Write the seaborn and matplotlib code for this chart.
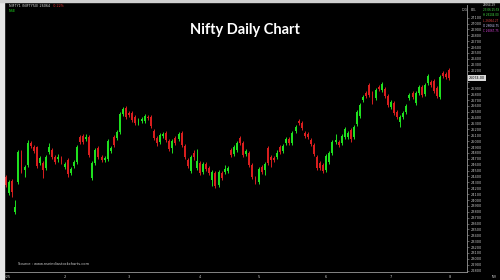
import numpy as np
import pandas as pd
import matplotlib
matplotlib.use("Agg")
import matplotlib.pyplot as plt
import seaborn as sns

# ---------------- data ----------------
opens = [24391, 24119, 24323, 23796, 24306, 24765, 24510, 24595, 24969, 24901,
         24901, 24629, 24629, 24544, 24816, 24850, 24731, 24697, 24714, 24561,
         24680, 24459, 24578, 24646, 25071, 25088, 25037, 25071, 24374, 24629,
         24884, 24731, 24680, 24697, 24833, 25071, 25054, 25156, 25462, 25564,
         25479, 25479, 25411, 25309, 25343, 25343, 25411, 25411, 25173, 25054,
         24986, 25088, 25139, 25003, 24884, 25054, 25037, 25139, 24918, 24680,
         24493, 24799, 24544, 24629, 24476, 24612, 24544, 24340, 24459, 24255,
         24459, 24476, 24493, 24850, 24782, 24850, 25054, 24969, 24782, 24799,
         24595, 24374, 24306, 24561, 24510, 24884, 24731, 24714, 24731, 24901,
         24833, 24969, 25037, 24969, 25173, 25343, 25309, 25139, 25122, 25020,
         24935, 24731, 24629, 24595, 24510, 24646, 24799, 24986, 24986, 24969,
         25071, 25071, 25190, 25071, 25292, 25428, 25700, 25819, 25955, 25819,
         25734, 25921, 25870, 25887, 25768, 25581, 25649, 25496, 25326, 25411,
         25496, 25734, 25819, 25649, 25819, 25921, 25802, 25989, 26006, 26023,
         25904, 25751, 26159, 26142, 26210]
highs = [24425, 24340, 24357, 24000, 24850, 24850, 24595, 25020, 25003, 24935,
         24918, 24748, 24663, 24765, 24969, 24884, 24765, 24782, 24748, 24646,
         24714, 24561, 24680, 24935, 25105, 25122, 25122, 25105, 24663, 24884,
         24918, 24765, 24748, 25037, 24918, 25105, 25190, 25496, 25581, 25598,
         25513, 25513, 25445, 25394, 25411, 25462, 25445, 25445, 25207, 25088,
         25139, 25156, 25173, 25037, 25037, 25088, 25156, 25173, 24952, 24714,
         24765, 24850, 24867, 24663, 24646, 24646, 24578, 24510, 24493, 24510,
         24493, 24595, 24578, 24884, 24935, 25003, 25088, 25003, 24867, 24833,
         24629, 24408, 24561, 24595, 24646, 24918, 24765, 24748, 24850, 24935,
         24952, 25071, 25071, 25173, 25275, 25377, 25343, 25173, 25156, 25054,
         24969, 24765, 24663, 24629, 24782, 24833, 25020, 25122, 25020, 25122,
         25241, 25173, 25224, 25275, 25530, 25649, 25785, 25853, 25989, 25853,
         25904, 25955, 26006, 25921, 25802, 25700, 25683, 25530, 25445, 25513,
         25632, 25819, 25853, 25853, 25955, 25955, 25989, 26142, 26040, 26057,
         25938, 26125, 26193, 26176, 26244]
lows = [24221, 24085, 24051, 23762, 24272, 24459, 24391, 24561, 24884, 24799,
        24544, 24595, 24374, 24510, 24782, 24697, 24612, 24646, 24612, 24527,
        24391, 24425, 24544, 24612, 24952, 24952, 25003, 24731, 24340, 24595,
        24697, 24646, 24646, 24663, 24799, 24901, 25020, 25122, 25428, 25377,
        25411, 25326, 25275, 25275, 25309, 25309, 25360, 25224, 25020, 24918,
        24952, 25054, 24986, 24833, 24799, 24935, 25003, 24901, 24697, 24544,
        24459, 24680, 24510, 24425, 24442, 24493, 24425, 24238, 24204, 24221,
        24340, 24442, 24459, 24731, 24748, 24816, 24935, 24731, 24748, 24561,
        24357, 24272, 24272, 24442, 24425, 24595, 24561, 24646, 24697, 24782,
        24799, 24935, 24935, 24935, 25139, 25275, 25190, 25054, 25037, 24918,
        24748, 24510, 24510, 24459, 24476, 24612, 24765, 24952, 24901, 24935,
        25037, 25037, 24986, 25037, 25258, 25394, 25666, 25734, 25751, 25632,
        25700, 25853, 25836, 25734, 25581, 25547, 25445, 25377, 25241, 25377,
        25462, 25700, 25717, 25615, 25785, 25751, 25768, 25955, 25921, 25819,
        25734, 25717, 26074, 26057, 26040]
closes = [24255, 24306, 24136, 23881, 24816, 24476, 24561, 24969, 24918, 24833,
          24578, 24714, 24510, 24731, 24901, 24731, 24646, 24731, 24646, 24612,
          24442, 24527, 24646, 24901, 24986, 24986, 25071, 24765, 24629, 24850,
          24731, 24680, 24714, 25003, 24884, 24935, 25156, 25462, 25547, 25411,
          25445, 25360, 25309, 25360, 25377, 25428, 25394, 25258, 25054, 24969,
          25105, 25122, 25020, 24867, 25003, 24969, 25122, 24935, 24731, 24578,
          24731, 24731, 24663, 24459, 24612, 24527, 24459, 24476, 24238, 24476,
          24374, 24527, 24544, 24765, 24901, 24969, 24969, 24765, 24833, 24595,
          24391, 24306, 24527, 24476, 24612, 24629, 24680, 24680, 24799, 24816,
          24918, 25037, 24969, 25139, 25241, 25309, 25224, 25088, 25071, 24952,
          24782, 24544, 24544, 24493, 24748, 24799, 24986, 25020, 24935, 25088,
          25207, 25139, 25037, 25241, 25496, 25615, 25751, 25768, 25785, 25666,
          25870, 25887, 25972, 25768, 25615, 25666, 25479, 25411, 25411, 25479,
          25598, 25785, 25751, 25819, 25921, 25785, 25955, 26108, 25955, 25853,
          25768, 26091, 26108, 26091, 26074]

month_labels = ["2025", "2", "3", "4", "5", "6", "7", "8"]
month_starts = [0, 19, 40, 63, 82, 104, 125, 144]

title = "Nifty Daily Chart"
source_text = "Source : www.nseindiastockcharts.com"

df = pd.DataFrame({"open": opens, "high": highs, "low": lows, "close": closes})
df["idx"] = np.arange(len(df))
df["up"] = df["close"] >= df["open"]

# ---------------- style ----------------
sns.set_theme(style="dark", rc={"axes.facecolor": "black", "figure.facecolor": "black"})
plt.rcParams["font.family"] = ["DejaVu Sans"]

W, H = 500, 280
fig = plt.figure(figsize=(W / 100, H / 100), dpi=100, facecolor="black")
ax = fig.add_axes([5 / W, 8 / H, 462 / W, 267 / H])
ax.set_facecolor("black")

green = "#1fe01f"
red = "#d81e1e"
colors = np.where(df["up"], green, red)

# wicks
ax.vlines(df["idx"], df["low"], df["high"], colors=colors, linewidth=0.7, zorder=2)
# bodies
body_bottom = np.minimum(df["open"], df["close"])
body_h = np.maximum(np.abs(df["close"] - df["open"]), 14)
ax.bar(df["idx"], body_h, bottom=body_bottom, width=0.62, color=colors,
       edgecolor="none", linewidth=0, zorder=3)

ax.set_xlim(-0.35, 149.7)
ax.set_ylim(22776, 27315)

sns.despine(ax=ax, left=True, top=True, right=False, bottom=False)
for s in ("right", "bottom"):
    ax.spines[s].set_color("#9a9a9a")
    ax.spines[s].set_linewidth(0.6)
ax.grid(False)

last = closes[-1]
ax.yaxis.tick_right()
yt = np.arange(22800, 27200, 100)
ax.set_yticks(yt)
ax.set_yticklabels(["" if abs(v - last) < 75 else f"{v:.0f}" for v in yt],
                   fontsize=2.5, color="#c8c8c8")
ax.tick_params(axis="y", length=1.5, width=0.4, color="#9a9a9a", pad=1)

ax.set_xticks(month_starts)
ax.set_xticklabels(month_labels, fontsize=2.6, color="#c8c8c8")
ax.tick_params(axis="x", length=1.5, width=0.4, color="#9a9a9a", pad=0.8)

# current price box
ax.annotate(f"{last:.2f}", xy=(1.0, last), xycoords=("axes fraction", "data"),
            xytext=(1.5, 0), textcoords="offset points", ha="left", va="center",
            fontsize=2.4, color="black",
            bbox=dict(boxstyle="square,pad=0.25", fc="#d9d9d9", ec="none"))

# title
fig.text(245 / W, 1 - 30 / H, title, ha="center", va="center", color="white",
         fontsize=10.5, fontweight="bold", family=["Lato", "DejaVu Sans"])

# frame strips (left & top light borders)
fig.patches.append(plt.Rectangle((0, 0), 4 / W, 1, transform=fig.transFigure,
                                 color="#e6e6e6", zorder=0))
fig.patches.append(plt.Rectangle((0, 1 - 2 / H), 1, 2 / H, transform=fig.transFigure,
                                 color="#d0d0d0", zorder=0))

# top-left info
fig.text(9 / W, 1 - 6 / H, "NIFTY1 (NIFTY50) 26064", color="#dddddd",
         fontsize=2.4, va="center", ha="left")
fig.text(53 / W, 1 - 6 / H, "-0.22%", color="#e03030", fontsize=2.4, va="center")
fig.text(9 / W, 1 - 11 / H, "NSE", color=green, fontsize=2.4, va="center")

# top-right info
fig.text(462 / W, 1 - 10 / H, "LOG", color="#bbbbbb", fontsize=2.2, va="center")
fig.text(470.5 / W, 1 - 10 / H, "EOL", color="#bbbbbb", fontsize=2.2, va="center")
info = [("26064.29", "#dddddd"), ("23:06 25:59", "#44dd44"),
        ("H 26104.00", "#44dd44"), ("L 26064.27", "#e04040"),
        ("O 26064.75", "#ccccff"), ("C 26067.75", "#dd44dd")]
for i, (t, c) in enumerate(info):
    fig.text(483 / W, 1 - (5 + 5.2 * i) / H, t, color=c, fontsize=2.0, va="center")

# source
fig.text(18 / W, 1 - 264 / H, source_text, color="#cfcfcf", fontsize=2.6, va="center")
fig.text(492 / W, 1 - 277 / H, "INR", color="#bbbbbb", fontsize=2.2, va="center")

fig.savefig("out.png", dpi=100, facecolor="black")
